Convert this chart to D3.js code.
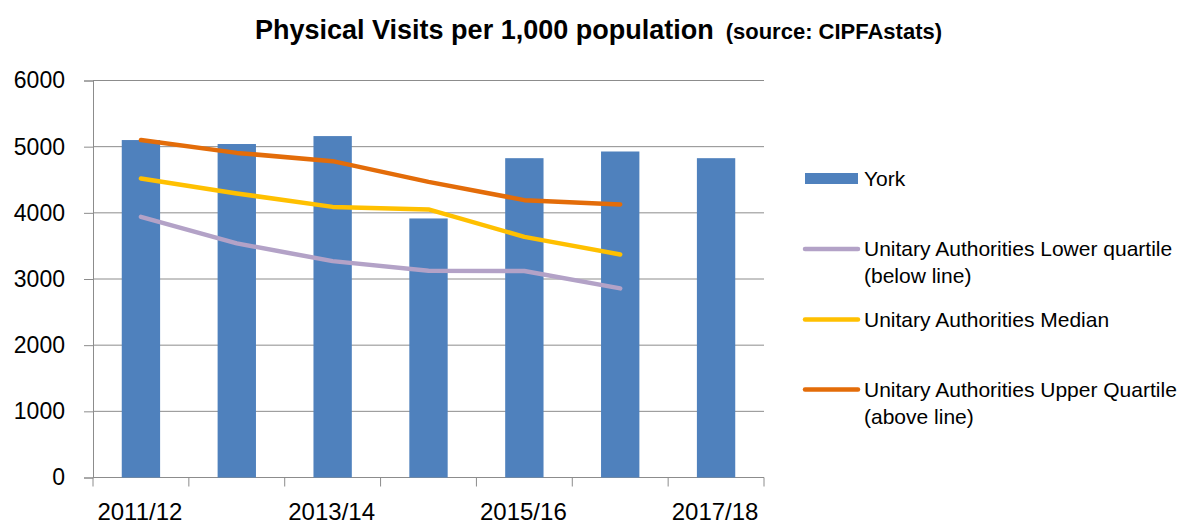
<!DOCTYPE html>
<html>
<head>
<meta charset="utf-8">
<script src="https://cdn.jsdelivr.net/npm/d3@7"></script>
<style>
  body { margin: 0; background: #fff; }
  text { font-family: "Liberation Sans", Arial, sans-serif; fill: #000; }
</style>
</head>
<body>
<script>
// data
var years = ["2011/12", "2012/13", "2013/14", "2014/15", "2015/16", "2016/17", "2017/18"];
var york = [5100, 5040, 5160, 3915, 4826, 4927, 4826];
var lowerQuartile = [3940, 3538, 3270, 3124, 3120, 2858];
var median = [4520, 4293, 4090, 4051, 3637, 3371];
var upperQuartile = [5100, 4906, 4781, 4468, 4192, 4127];
var yTicks = [0, 1000, 2000, 3000, 4000, 5000, 6000];
var shownYears = ["2011/12", "2013/14", "2015/16", "2017/18"];

var width = 1179, height = 523;
var plotLeft = 93, plotRight = 764, plotTop = 80.5, plotBottom = 477.5;

var svg = d3.select("body")
    .append("svg")
    .attr("width", width)
    .attr("height", height);

var x = d3.scaleBand().domain(years).range([plotLeft, plotRight]).paddingInner(0.6).paddingOuter(0.3);
var xCenter = d3.scaleBand().domain(years).range([plotLeft, plotRight]); // full bands for ticks and lines
var y = d3.scaleLinear().domain([0, 6000]).range([plotBottom, plotTop]);

// gridlines
svg.append("g")
    .selectAll("line")
    .data(yTicks.filter(function(d) { return d > 0; }))
    .enter().append("line")
    .attr("x1", plotLeft).attr("x2", plotRight)
    .attr("y1", function(d) { return y(d); })
    .attr("y2", function(d) { return y(d); })
    .style("stroke", "#8c8c8c")
    .style("stroke-width", 1);

// y axis
var yAxis = svg.append("g")
    .attr("transform", "translate(" + plotLeft + ",0)")
    .call(d3.axisLeft(y).tickValues(yTicks).tickSize(9).tickPadding(19).tickFormat(d3.format("d")));
yAxis.selectAll("path, line").style("stroke", "#8c8c8c");
yAxis.selectAll("text").style("font-size", "23px").style("font-family", "Liberation Sans, Arial, sans-serif").style("fill", "#000");

// x axis: ticks on band edges, labels on every other band
var xAxis = svg.append("g")
    .attr("transform", "translate(0," + plotBottom + ")");
xAxis.append("line")
    .attr("x1", plotLeft).attr("x2", plotRight)
    .style("stroke", "#8c8c8c");
xAxis.selectAll("line.tick")
    .data(years.concat(["end"]))
    .enter().append("line")
    .attr("class", "tick")
    .attr("x1", function(d, i) { return plotLeft + i * xCenter.bandwidth(); })
    .attr("x2", function(d, i) { return plotLeft + i * xCenter.bandwidth(); })
    .attr("y1", 0).attr("y2", 9)
    .style("stroke", "#8c8c8c");
xAxis.selectAll("text")
    .data(shownYears)
    .enter().append("text")
    .attr("x", function(d) { return xCenter(d) + xCenter.bandwidth() / 2 - 1; })
    .attr("y", 42)
    .attr("text-anchor", "middle")
    .style("font-size", "24px")
    .text(function(d) { return d; });

// bars
svg.append("g")
    .selectAll("rect")
    .data(york)
    .enter().append("rect")
    .attr("x", function(d, i) { return x(years[i]); })
    .attr("y", function(d) { return y(d); })
    .attr("width", x.bandwidth())
    .attr("height", function(d) { return plotBottom - y(d); })
    .style("fill", "#4f81bd");

// lines
var line = d3.line()
    .x(function(d, i) { return xCenter(years[i]) + xCenter.bandwidth() / 2; })
    .y(function(d) { return y(d); });

var series = [
    { name: "lower", values: lowerQuartile, color: "#b3a2c7" },
    { name: "median", values: median, color: "#ffc000" },
    { name: "upper", values: upperQuartile, color: "#e36c09" }
];

svg.append("g")
    .selectAll("path")
    .data(series)
    .enter().append("path")
    .attr("d", function(s) { return line(s.values); })
    .style("fill", "none")
    .style("stroke", function(s) { return s.color; })
    .style("stroke-width", 4.5)
    .style("stroke-linecap", "round")
    .style("stroke-linejoin", "round");

// title
var title = svg.append("text")
    .attr("x", 255)
    .attr("y", 39)
    .style("font-weight", "bold");
title.append("tspan").style("font-size", "27px").text("Physical Visits per 1,000 population");
title.append("tspan").attr("dx", 12).style("font-size", "22px").text("(source: CIPFAstats)");

// legend
var legend = [
    { type: "bar", y: 178.5, color: "#4f81bd", lines: ["York"] },
    { type: "line", y: 249, color: "#b3a2c7", lines: ["Unitary Authorities Lower quartile", "(below line)"] },
    { type: "line", y: 319.5, color: "#ffc000", lines: ["Unitary Authorities Median"] },
    { type: "line", y: 389.5, color: "#e36c09", lines: ["Unitary Authorities Upper Quartile", "(above line)"] }
];

var lg = svg.append("g").selectAll("g")
    .data(legend)
    .enter().append("g")
    .attr("transform", function(d) { return "translate(805," + d.y + ")"; });

lg.filter(function(d) { return d.type === "bar"; })
    .append("rect")
    .attr("x", 0).attr("y", -5.5).attr("width", 53).attr("height", 11)
    .style("fill", function(d) { return d.color; });

lg.filter(function(d) { return d.type === "line"; })
    .append("line")
    .attr("x1", 0).attr("x2", 53)
    .style("stroke", function(d) { return d.color; })
    .style("stroke-width", 4.5)
    .style("stroke-linecap", "round");

lg.each(function(d) {
    var t = d3.select(this).append("text")
        .attr("x", 59)
        .attr("y", 7)
        .style("font-size", "21px");
    d.lines.forEach(function(l, i) {
        t.append("tspan").attr("x", 59).attr("dy", i === 0 ? 0 : 27).text(l);
    });
});
</script>
</body>
</html>
